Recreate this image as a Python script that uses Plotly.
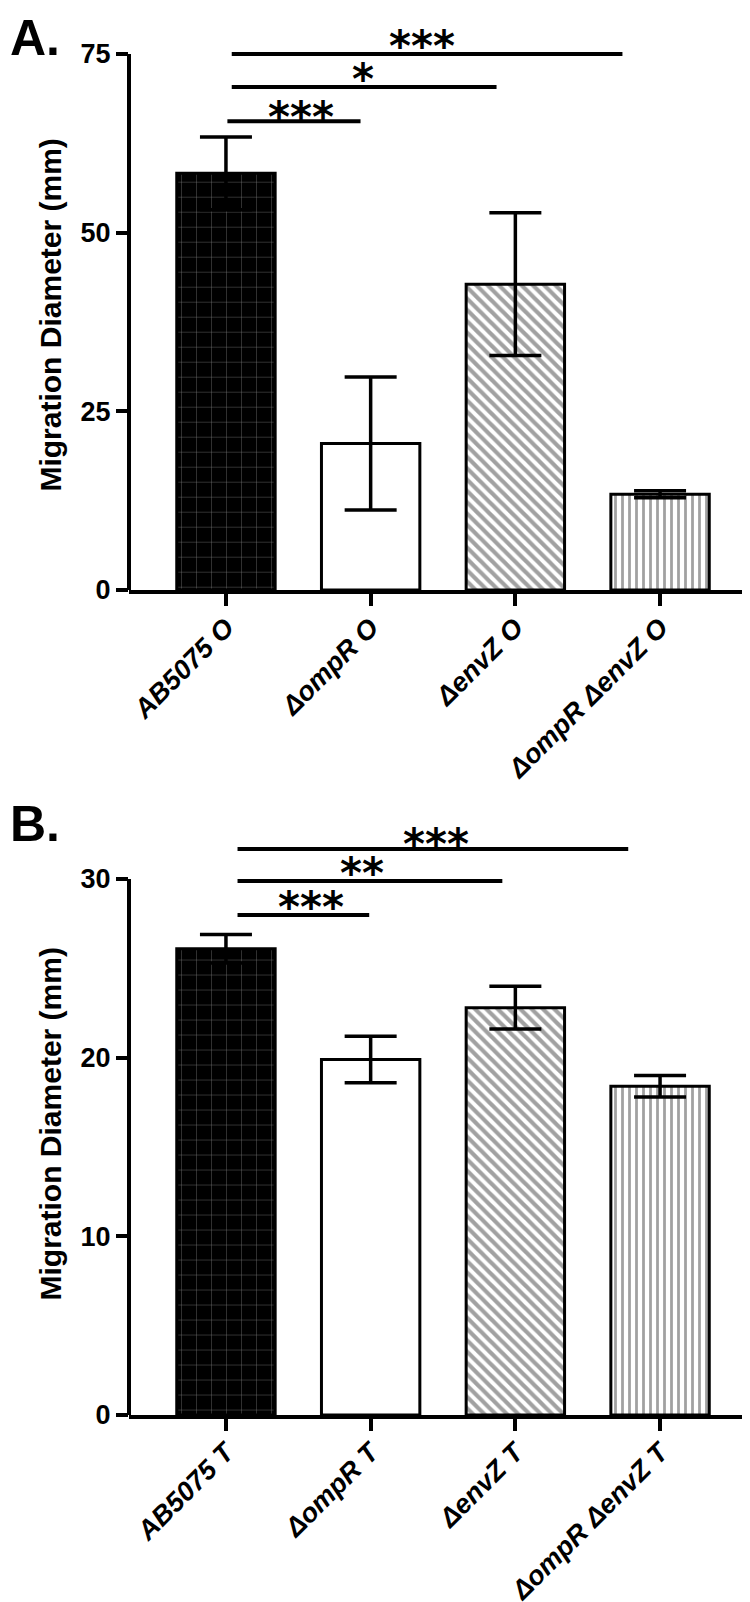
import plotly.graph_objects as go

# ---------------- data ----------------
cats_A = ["AB5075 O", "ΔompR O", "ΔenvZ O", "ΔompR ΔenvZ O"]
means_A = [58.3, 20.5, 42.8, 13.4]
sd_A = [5.1, 9.3, 10.0, 0.5]

cats_B = ["AB5075 T", "ΔompR T", "ΔenvZ T", "ΔompR ΔenvZ T"]
means_B = [26.1, 19.9, 22.8, 18.4]
sd_B = [0.8, 1.3, 1.2, 0.6]

ticks_A = [0, 25, 50, 75]
ticks_B = [0, 10, 20, 30]

# significance brackets: start/end category position, height (data units), label, label x
sigA_x0 = [0.01, 0.04, 0.04]
sigA_x1 = [0.93, 1.87, 2.74]
sigA_y = [65.6, 70.4, 75.0]
sigA_lab = ["***", "*", "***"]
sigA_xt = [0.52, 0.95, 1.355]

sigB_x0 = [0.08, 0.08, 0.08]
sigB_x1 = [0.99, 1.91, 2.78]
sigB_y = [27.98, 29.89, 31.68]
sigB_lab = ["***", "**", "***"]
sigB_xt = [0.59, 0.94, 1.45]

# ---------------- styling ----------------
W, H = 750, 1602
bar_bg = ["black", "white", "white", "white"]
pat_shape = ["+", "", "\\", "|"]
pat_fg = ["#161616", "black", "black", "black"]
pat_size = [15, 8, 8, 7]
pat_sol = [0.05, 0.3, 0.52, 0.4]
FONT = "Liberation Sans"

def ydom(top_px, bottom_px):
    return [1 - bottom_px / H, 1 - top_px / H]

# panel A: value 0 at 582px, 75 at 46px ; panel B: 0 at 1407px, 30 at 871px
yA_range = [0, 77]
yB_range = [0, 32.6]
pxA = (582 - 46) / 75.0
pxB = (1407 - 871) / 30.0
domA = ydom(582 - yA_range[1] * pxA, 582)
domB = ydom(1407 - yB_range[1] * pxB, 1407)
xdom = [121 / W, 748 / W]
xrng = [-0.67, 3.663]

fig = go.Figure()

def add_bars(cats, means, sds, xa, ya):
    fig.add_trace(go.Bar(
        x=cats, y=means, width=0.68, xaxis=xa, yaxis=ya,
        marker=dict(color=bar_bg, line=dict(color="black", width=3),
                    pattern=dict(shape=pat_shape, fgcolor=pat_fg, bgcolor=bar_bg,
                                 size=pat_size, solidity=pat_sol)),
        error_y=dict(type="data", array=sds, color="black", thickness=3.5, width=26),
        showlegend=False, hoverinfo="skip"))

add_bars(cats_A, means_A, sd_A, "x", "y")
add_bars(cats_B, means_B, sd_B, "x2", "y2")

tickfont_y = dict(family=FONT, size=27, color="black", weight="bold")
tickfont_x = dict(family=FONT, size=27, color="black", weight="bold", style="italic")
title_font = dict(family=FONT, size=30, color="black", weight="bold")

def xaxis_cfg(anchor):
    return dict(domain=xdom, range=xrng, anchor=anchor, showline=True, linewidth=4,
                linecolor="black", ticks="outside", ticklen=12, tickwidth=4,
                tickcolor="black", tickangle=-45, tickfont=tickfont_x,
                ticklabelstandoff=-5,
                showgrid=False, zeroline=False, automargin=False)

def yaxis_cfg(anchor, dom, rng, tv):
    return dict(domain=dom, range=rng, anchor=anchor, tickvals=tv, showline=False,
                ticks="outside", ticklen=12, tickwidth=4, tickcolor="black",
                tickfont=tickfont_y, showgrid=False, zeroline=False, automargin=False,
                title=dict(text="Migration Diameter (mm)", font=title_font, standoff=10))

shapes = []
annotations = []

def add_spine(xref, yref, top):
    shapes.append(dict(type="line", xref=xref + " domain", yref=yref, x0=0, x1=0,
                       y0=0, y1=top, line=dict(color="black", width=4)))

add_spine("x", "y", ticks_A[-1])
add_spine("x2", "y2", ticks_B[-1])

def add_sig(xref, yref, x0s, x1s, ys, labs, xts, shifts):
    for x0, x1, y, lab, xt, sh in zip(x0s, x1s, ys, labs, xts, shifts):
        shapes.append(dict(type="line", xref=xref, yref=yref, x0=x0, x1=x1, y0=y, y1=y,
                           line=dict(color="black", width=4)))
        annotations.append(dict(xref=xref, yref=yref, x=xt, y=y, text=lab, showarrow=False,
                                xanchor="center", yanchor="bottom", yshift=sh,
                                font=dict(family="DejaVu Sans", size=42, color="black",
                                          weight="bold")))

add_sig("x", "y", sigA_x0, sigA_x1, sigA_y, sigA_lab, sigA_xt, [-23, -19, -19])
add_sig("x2", "y2", sigB_x0, sigB_x1, sigB_y, sigB_lab, sigB_xt, [-19, -19, -22])

annotations.append(dict(xref="paper", yref="paper", x=0.0, y=1.0, xanchor="left", yanchor="top",
                        text="A.", showarrow=False,
                        font=dict(family=FONT, size=50, color="black", weight="bold")))
annotations.append(dict(xref="paper", yref="paper", x=0.0, y=1 - 786 / H, xanchor="left",
                        yanchor="top", text="B.", showarrow=False,
                        font=dict(family=FONT, size=50, color="black", weight="bold")))

fig.update_layout(
    width=W, height=H, margin=dict(l=0, r=0, t=0, b=0),
    paper_bgcolor="white", plot_bgcolor="white",
    xaxis=xaxis_cfg("y"), yaxis=yaxis_cfg("x", domA, yA_range, ticks_A),
    xaxis2=xaxis_cfg("y2"), yaxis2=yaxis_cfg("x2", domB, yB_range, ticks_B),
    shapes=shapes, annotations=annotations, bargap=0.3,
)

fig.write_html("out.html")
